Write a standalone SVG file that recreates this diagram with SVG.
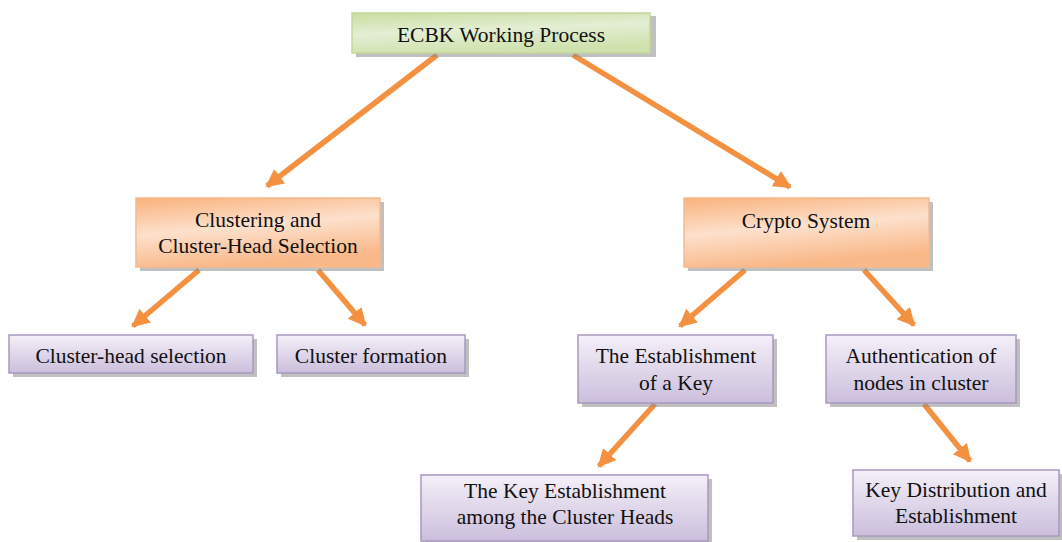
<svg xmlns="http://www.w3.org/2000/svg" width="1062" height="542" viewBox="0 0 1062 542">
<style>
text{font-family:"Liberation Serif","Times New Roman","DejaVu Serif",serif;font-size:21.5px;fill:#111;text-anchor:middle}
.sh{fill:#8c8c8c;opacity:0.55}
.g{fill:url(#gGreen);stroke:#c3d69b;stroke-width:1.5}
.o{fill:url(#gOrange);stroke:#f9b98a;stroke-width:1.5}
.p{fill:url(#gPurple);stroke:#a898c0;stroke-width:1.5}
.c{stroke:#f39140;stroke-width:5.5;fill:none;marker-end:url(#ah)}
</style>
<defs>
<linearGradient id="gGreen" x1="0" y1="0" x2="0.3" y2="1">
<stop offset="0" stop-color="#c8dea0"/><stop offset="0.5" stop-color="#e4eed4"/><stop offset="1" stop-color="#cfe2ae"/>
</linearGradient>
<linearGradient id="gOrange" x1="0" y1="0" x2="0.3" y2="1">
<stop offset="0" stop-color="#f9b27c"/><stop offset="0.5" stop-color="#fde0cc"/><stop offset="1" stop-color="#f9b888"/>
</linearGradient>
<linearGradient id="gPurple" x1="0" y1="0" x2="0" y2="1">
<stop offset="0" stop-color="#f4f0f8"/><stop offset="1" stop-color="#cbbedc"/>
</linearGradient>
<marker id="ah" markerUnits="userSpaceOnUse" markerWidth="22" markerHeight="22" refX="16" refY="9" orient="auto">
<path d="M0,0 L18,9 L0,18 Z" fill="#f39140"/>
</marker>
</defs>
<g id="connectors">
<line class="c" x1="437" y1="55" x2="267" y2="186"/>
<line class="c" x1="573" y1="55" x2="790" y2="187"/>
<line class="c" x1="199" y1="270" x2="133" y2="326"/>
<line class="c" x1="318" y1="270" x2="365" y2="325"/>
<line class="c" x1="745" y1="270" x2="680" y2="326"/>
<line class="c" x1="864" y1="270" x2="914" y2="325"/>
<line class="c" x1="655" y1="404" x2="599" y2="466"/>
<line class="c" x1="924" y1="404" x2="970" y2="461"/>
</g>
<g id="n-ecbk">
<rect class="sh" x="356" y="16" width="300" height="41"/>
<rect class="g" x="352" y="13" width="298" height="40"/>
<text x="501" y="42">ECBK Working Process</text>
</g>
<g id="n-clustering">
<rect class="sh" x="140" y="202" width="244" height="69"/>
<rect class="o" x="136" y="198" width="244" height="69"/>
<text x="258" y="227">Clustering and</text>
<text x="258" y="253">Cluster-Head Selection</text>
</g>
<g id="n-crypto">
<rect class="sh" x="688" y="202" width="245" height="69"/>
<rect class="o" x="684" y="198" width="245" height="69"/>
<text x="806" y="228">Crypto System</text>
</g>
<g id="n-chsel">
<rect class="sh" x="13" y="339" width="244" height="38"/>
<rect class="p" x="9" y="335" width="244" height="38"/>
<text x="131" y="363">Cluster-head selection</text>
</g>
<g id="n-cform">
<rect class="sh" x="281" y="339" width="188" height="38"/>
<rect class="p" x="277" y="335" width="188" height="38"/>
<text x="371" y="363">Cluster formation</text>
</g>
<g id="n-estkey">
<rect class="sh" x="582" y="339" width="195" height="68"/>
<rect class="p" x="578" y="335" width="195" height="68"/>
<text x="676" y="363">The Establishment</text>
<text x="676" y="390">of a Key</text>
</g>
<g id="n-auth">
<rect class="sh" x="830" y="339" width="190" height="68"/>
<rect class="p" x="826" y="335" width="190" height="68"/>
<text x="921" y="363">Authentication of</text>
<text x="921" y="390">nodes in cluster</text>
</g>
<g id="n-keyest">
<rect class="sh" x="425" y="479" width="287" height="66"/>
<rect class="p" x="421" y="475" width="287" height="66"/>
<text x="565" y="498">The Key Establishment</text>
<text x="565" y="524">among the Cluster Heads</text>
</g>
<g id="n-keydist">
<rect class="sh" x="857" y="474" width="208" height="66"/>
<rect class="p" x="853" y="470" width="206" height="66"/>
<text x="956" y="497">Key Distribution and</text>
<text x="956" y="523">Establishment</text>
</g>
</svg>
